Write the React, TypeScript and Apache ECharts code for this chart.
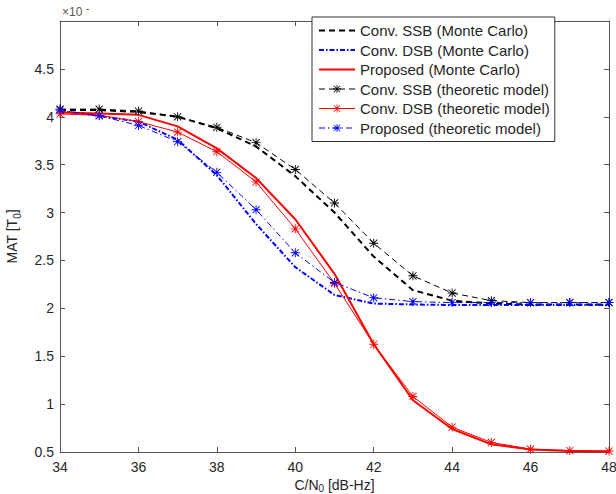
import React, { useEffect, useRef } from 'react';
import * as echarts from 'echarts';

const cn0 = [34, 35, 36, 37, 38, 39, 40, 41, 42, 43, 44, 45, 46, 47, 48];

const ssbMonteCarlo = [4.07, 4.07, 4.05, 4.0, 3.88, 3.69, 3.38, 3.0, 2.54, 2.19, 2.08, 2.05, 2.04, 2.04, 2.04];
const dsbMonteCarlo = [4.06, 4.01, 3.95, 3.76, 3.39, 2.88, 2.43, 2.14, 2.05, 2.04, 2.035, 2.035, 2.035, 2.035, 2.035];
const proposedMonteCarlo = [4.045, 4.035, 4.02, 3.9, 3.67, 3.36, 2.93, 2.36, 1.625, 1.04, 0.74, 0.58, 0.525, 0.51, 0.505];
const ssbTheoretic = [4.08, 4.08, 4.06, 4.0, 3.89, 3.73, 3.45, 3.1, 2.68, 2.34, 2.16, 2.08, 2.06, 2.06, 2.06];
const dsbTheoretic = [4.03, 4.015, 3.95, 3.84, 3.635, 3.32, 2.83, 2.26, 1.625, 1.08, 0.76, 0.6, 0.53, 0.515, 0.51];
const proposedTheoretic = [4.07, 4.01, 3.91, 3.74, 3.42, 3.03, 2.58, 2.27, 2.11, 2.07, 2.06, 2.06, 2.06, 2.06, 2.06];

const seriesNames = [
  'Conv. SSB (Monte Carlo)',
  'Conv. DSB (Monte Carlo)',
  'Proposed (Monte Carlo)',
  'Conv. SSB (theoretic model)',
  'Conv. DSB (theoretic model)',
  'Proposed (theoretic model)',
];

const FONT = '"Liberation Sans", Arial, Helvetica, sans-serif';
const STAR =
  'path://M9 0H11V20H9Z M0 9H20V11H0Z M1.4 2.8L2.8 1.4L18.6 17.2L17.2 18.6Z M17.2 1.4L18.6 2.8L2.8 18.6L1.4 17.2Z';

const pairs = (arr: number[]) => cn0.map((x, i) => [x, arr[i]]);

export default function App() {
  const ref = useRef<HTMLDivElement>(null);
  useEffect(() => {
    if (!ref.current) return;
    document.body.style.margin = '0';
    const chart = echarts.init(ref.current, undefined, { renderer: 'svg' });
    const axisColor = '#555';
    const textColor = '#262626';
    const mk = (
      name: string,
      data: number[],
      color: string,
      width: number,
      type: any,
      star: boolean
    ) => ({
      name,
      type: 'line',
      data: pairs(data),
      symbol: star ? STAR : 'none',
      showSymbol: star,
      symbolSize: 9,
      itemStyle: { color, borderWidth: 0 },
      lineStyle: { color, width, type },
      emphasis: { disabled: true },
    });
    chart.setOption({
      animation: false,
      textStyle: { fontFamily: FONT },
      grid: {
        left: 60,
        right: 7,
        top: 21,
        bottom: 42,
        containLabel: false,
        outerBoundsMode: 'none',
      },
      legend: {
        left: 312,
        top: 17,
        orient: 'vertical',
        data: seriesNames.map((n, i) =>
          i < 3
            ? { name: n, itemStyle: { opacity: 0 }, lineStyle: { width: 2 } }
            : { name: n, lineStyle: { width: 1 } }
        ),
        backgroundColor: '#fff',
        borderColor: '#333',
        borderWidth: 1,
        borderRadius: 0,
        padding: [6, 5, 6, 6],
        itemWidth: 36,
        itemHeight: 10,
        itemGap: 4.5,
        textStyle: { fontSize: 15, lineHeight: 15, color: textColor, fontFamily: FONT },
      },
      graphic: [
        {
          type: 'text',
          left: 62,
          top: 6,
          style: { text: '×10', fontSize: 12, fill: '#555', fontFamily: FONT },
        },
        {
          type: 'text',
          left: 86,
          top: 3,
          style: { text: '-', fontSize: 10, fill: '#555', fontFamily: FONT },
        },
      ],
      xAxis: [
        {
          type: 'value',
          min: 34,
          max: 48,
          interval: 2,
          name: '{m|C/N}{s|0}{m| [dB-Hz]}',
          nameLocation: 'middle',
          nameGap: 24,
          nameMoveOverlap: false,
          nameTextStyle: {
            rich: {
              m: { fontSize: 14, color: textColor, fontFamily: FONT },
              s: { fontSize: 10, color: textColor, fontFamily: FONT, padding: [7, 0, 0, 0] },
            },
          },
          axisLine: { onZero: false, lineStyle: { color: axisColor, width: 1 } },
          axisTick: { inside: true, length: 5, lineStyle: { color: axisColor } },
          axisLabel: { fontSize: 14, color: textColor, margin: 8, fontFamily: FONT },
          splitLine: { show: false },
        },
        {
          type: 'value',
          position: 'top',
          min: 34,
          max: 48,
          interval: 2,
          axisLine: { onZero: false, lineStyle: { color: axisColor, width: 1 } },
          axisTick: { inside: true, length: 5, lineStyle: { color: axisColor } },
          axisLabel: { show: false },
          splitLine: { show: false },
        },
      ],
      yAxis: [
        {
          type: 'value',
          min: 0.5,
          max: 5,
          interval: 0.5,
          name: '{m|MAT [T}{s|0}{m|]}',
          nameLocation: 'middle',
          nameGap: 38,
          nameMoveOverlap: false,
          nameTextStyle: {
            rich: {
              m: { fontSize: 14, color: textColor, fontFamily: FONT },
              s: { fontSize: 10, color: textColor, fontFamily: FONT, padding: [10, 0, 0, 0] },
            },
          },
          axisLine: { onZero: false, lineStyle: { color: axisColor, width: 1 } },
          axisTick: { inside: true, length: 5, lineStyle: { color: axisColor } },
          axisLabel: {
            fontSize: 14,
            color: textColor,
            margin: 6,
            fontFamily: FONT,
            formatter: (v: number) => (v >= 5 ? '' : String(v)),
          },
          splitLine: { show: false },
        },
        {
          type: 'value',
          position: 'right',
          min: 0.5,
          max: 5,
          interval: 0.5,
          axisLine: { onZero: false, lineStyle: { color: axisColor, width: 1 } },
          axisTick: { inside: true, length: 5, lineStyle: { color: axisColor } },
          axisLabel: { show: false },
          splitLine: { show: false },
        },
      ],
      series: [
        mk(seriesNames[0], ssbMonteCarlo, '#000000', 2, [6, 4], false),
        mk(seriesNames[1], dsbMonteCarlo, '#0000ff', 2, [5, 2, 1.5, 2], false),
        mk(seriesNames[2], proposedMonteCarlo, '#ff0000', 2, 'solid', false),
        mk(seriesNames[3], ssbTheoretic, '#000000', 1, [6, 4], true),
        mk(seriesNames[4], dsbTheoretic, '#ff0000', 1, 'solid', true),
        mk(seriesNames[5], proposedTheoretic, '#0000ff', 1, [6, 3, 1.5, 3], true),
      ],
    });
    return () => chart.dispose();
  }, []);
  return <div ref={ref} style={{ width: 616, height: 494 }} />;
}
